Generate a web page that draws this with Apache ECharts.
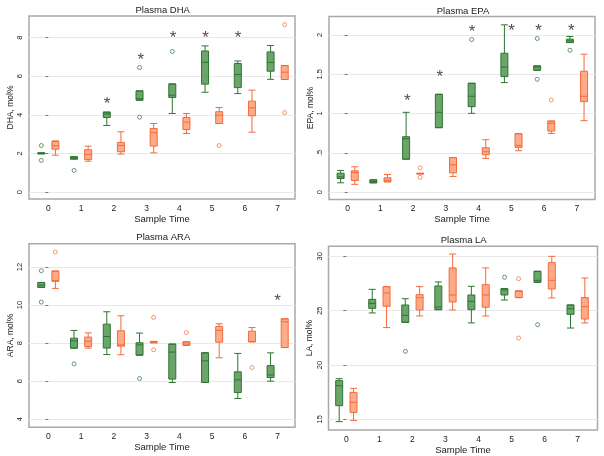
<!DOCTYPE html>
<html><head><meta charset="utf-8">
<script src="https://cdn.jsdelivr.net/npm/echarts@6/dist/echarts.min.js"></script>
<style>html,body{margin:0;padding:0;background:#fff}#c{width:604px;height:456px}</style>
</head><body><div id="c"></div>
<script>
// ---------- DATA ----------
const categories = [0, 1, 2, 3, 4, 5, 6, 7];
const panelTitles = ['Plasma DHA', 'Plasma EPA', 'Plasma ARA', 'Plasma LA'];
const yNames = ['DHA, mol%', 'EPA, mol%', 'ARA, mol%', 'LA, mol%'];
const xName = 'Sample Time';
const yTicks = [[0, 2, 4, 6, 8], [0, 0.5, 1, 1.5, 2], [4, 6, 8, 10, 12], [15, 20, 25, 30]];

// box values per category: [min, Q1, median, Q3, max]
const dhaGreen = [[1.98,1.98,2.0,2.03,2.03],[1.71,1.71,1.76,1.83,1.83],[3.45,3.86,4.05,4.14,4.14],[4.76,4.76,4.84,5.24,5.24],[4.07,4.90,5.02,5.60,5.60],[5.17,5.59,6.72,7.31,7.57],[5.10,5.41,6.09,6.66,6.79],[5.84,6.26,6.72,7.26,7.59]];
const dhaOrange = [[1.91,2.22,2.40,2.62,2.65],[1.60,1.69,1.95,2.19,2.38],[1.97,2.09,2.41,2.57,3.12],[2.03,2.38,3.07,3.29,3.55],[3.03,3.24,3.62,3.86,4.07],[3.55,3.55,3.98,4.16,4.38],[3.10,3.95,4.36,4.71,5.28],[5.83,5.83,6.21,6.55,6.55]];
const dhaGreenOut = [[0,2.41],[0,1.64],[1,1.12],[3,6.45],[3,3.88],[4,7.28]];
const dhaOrangeOut = [[5,2.41],[7,8.67],[7,4.12]];
const dhaStars = [[1.79,4.76],[2.82,7.03],[3.81,8.16],[4.80,8.16],[5.79,8.16]];

const epaGreen = [[0.119,0.174,0.195,0.242,0.276],[0.119,0.119,0.136,0.157,0.157],[0.42,0.42,0.68,0.705,1.015],[0.82,0.82,1.015,1.244,1.244],[1.002,1.087,1.219,1.384,1.384],[1.393,1.469,1.59,1.766,2.127],[1.55,1.55,1.59,1.605,1.605],[1.902,1.902,1.924,1.945,1.979]];
const epaOrange = [[0.10,0.149,0.25,0.272,0.323],[0.132,0.132,0.153,0.183,0.225],[0.232,0.232,0.235,0.24,0.24],[0.20,0.246,0.348,0.44,0.44],[0.429,0.476,0.514,0.565,0.667],[0.527,0.569,0.594,0.743,0.743],[0.747,0.777,0.875,0.904,0.904],[0.909,1.151,1.219,1.537,1.754]];
const epaGreenOut = [[4,1.94],[6,1.953],[6,1.435],[7,1.805]];
const epaOrangeOut = [[2,0.31],[2,0.19],[6,1.172]];
const epaStars = [[1.82,1.20],[2.81,1.507],[3.80,2.08],[5.0,2.093],[5.83,2.093],[6.83,2.093]];

const araGreen = [[10.93,10.93,11.05,11.19,11.19],[7.74,7.74,8.12,8.26,8.67],[7.40,7.74,8.35,9.0,9.65],[7.37,7.37,7.91,8.02,8.53],[5.93,6.11,7.53,7.95,7.95],[5.93,5.93,7.07,7.49,7.49],[5.09,5.40,6.07,6.49,7.46],[6.0,6.19,6.33,6.82,7.49]];
const araOrange = [[10.88,11.25,11.3,11.79,11.79],[7.74,7.82,8.1,8.32,8.54],[7.39,7.84,7.91,8.65,9.44],[8.02,8.02,8.05,8.09,8.09],[7.88,7.88,7.95,8.07,8.07],[7.23,8.05,8.67,8.88,9.02],[8.07,8.07,8.09,8.63,8.82],[7.77,7.77,9.12,9.28,9.28]];
const araGreenOut = [[0,11.81],[0,10.16],[1,6.91],[3,6.14]];
const araOrangeOut = [[0,12.79],[3,9.35],[3,7.65],[4,8.56],[6,6.72]];
const araStars = [[7.0,10.4]];

const laGreen = [[14.79,16.26,18.1,18.56,18.74],[24.79,25.21,25.67,26.04,26.96],[23.93,23.93,24.57,25.52,26.1],[25.09,25.09,25.34,27.27,27.64],[23.87,25.09,25.86,26.44,27.24],[25.98,26.44,26.9,27.02,27.02],[27.61,27.61,27.79,28.62,28.62],[23.4,24.66,25.18,25.52,25.52]];
const laOrange = [[14.9,15.64,16.56,17.48,17.85],[23.44,25.4,26.63,27.21,27.21],[24.51,25.06,26.2,26.47,27.21],[25.06,25.8,26.44,28.93,30.21],[24.51,25.31,26.44,27.39,28.93],[26.2,26.2,26.78,26.81,26.81],[26.17,26.99,27.79,29.42,30.0],[23.87,24.23,25.37,26.2,28.0]];
const laGreenOut = [[2,21.26],[5,28.07],[6,23.71]];
const laOrangeOut = [[5,27.94],[5,22.48]];
const laStars = [];

// ---------- LAYOUT / STYLE ----------
const FONT = 'Liberation Sans, Arial, Helvetica, sans-serif';
const grids = [
  {left: 29, top: 16, width: 266, height: 183},
  {left: 329, top: 16.5, width: 266, height: 183},
  {left: 29, top: 243.7, width: 266, height: 183.5},
  {left: 328.5, top: 246.3, width: 269, height: 183.7}
];
const xRanges = [[-0.59, 7.53], [-0.57, 7.55], [-0.59, 7.53], [-0.54, 7.6]];
const yRanges = [[-0.36, 9.12], [-0.093, 2.233], [3.58, 13.23], [14.02, 30.92]];
const yIntervals = [2, 0.5, 2, 5];
const titleX = [162.7, 463, 163.3, 463.7];
const titleY = [5.5, 6.5, 232.5, 235];
const yNameGap = [13, 10, 12, 10.5];
const xNameGap = [13, 12.5, 13, 12];

const GREEN_FILL = 'rgba(74,145,74,0.82)';
const GREEN_LINE = '#2d7530';
const ORANGE_FILL = 'rgba(252,160,120,0.88)';
const ORANGE_LINE = '#f46a3a';

const panels = [
  [dhaGreen, dhaOrange, dhaGreenOut, dhaOrangeOut, dhaStars],
  [epaGreen, epaOrange, epaGreenOut, epaOrangeOut, epaStars],
  [araGreen, araOrange, araGreenOut, araOrangeOut, araStars],
  [laGreen, laOrange, laGreenOut, laOrangeOut, laStars]
];

const fmt = v => String(v).replace(/^0\./, '.');

const option = {
  animation: false,
  backgroundColor: '#fff',
  textStyle: {fontFamily: FONT},
  title: panelTitles.map((t, i) => ({
    text: t, left: titleX[i], top: titleY[i], textAlign: 'center', padding: 0,
    textStyle: {fontSize: 9.5, fontWeight: 'normal', color: '#1a1a1a', fontFamily: FONT}
  })),
  grid: grids.map(g => Object.assign({show: true, borderColor: '#a9a9a9', borderWidth: 1.5, backgroundColor: '#fff', containLabel: false}, g)),
  xAxis: grids.map((g, i) => ({
    type: 'value', gridIndex: i, min: xRanges[i][0], max: xRanges[i][1],
    name: xName, nameLocation: 'middle', nameGap: xNameGap[i],
    nameTextStyle: {fontSize: 9.5, color: '#222', fontFamily: FONT},
    axisLine: {show: false}, splitLine: {show: false},
    axisTick: {show: false, customValues: categories},
    axisLabel: {customValues: categories, fontSize: 8.5, color: '#222', margin: 5, fontFamily: FONT}
  })),
  yAxis: grids.map((g, i) => ({
    type: 'value', gridIndex: i, min: yRanges[i][0], max: yRanges[i][1],
    minInterval: yIntervals[i], maxInterval: yIntervals[i],
    name: yNames[i], nameLocation: 'middle', nameGap: yNameGap[i], nameRotate: 90,
    nameTextStyle: {fontSize: 8.5, color: '#222', fontFamily: FONT},
    axisLine: {show: false},
    axisTick: {show: true, length: 3, customValues: yTicks[i], lineStyle: {color: '#777', width: 1}},
    axisLabel: {customValues: yTicks[i], rotate: 90, fontSize: 7.5, color: '#222', margin: 5, formatter: fmt, fontFamily: FONT},
    splitLine: {show: true, lineStyle: {color: '#e9e9e9', width: 1}}
  })),
  series: []
};

panels.forEach((p, i) => {
  const [g, o, gOut, oOut, stars] = p;
  option.series.push({
    type: 'boxplot', xAxisIndex: i, yAxisIndex: i, boxWidth: [7, 7],
    data: g.map((v, k) => [categories[k]].concat(v)),
    itemStyle: {color: GREEN_FILL, borderColor: GREEN_LINE, borderWidth: 1},
    emphasis: {disabled: true}, silent: true
  });
  option.series.push({
    type: 'boxplot', xAxisIndex: i, yAxisIndex: i, boxWidth: [7, 7],
    data: o.map((v, k) => [categories[k]].concat(v)),
    itemStyle: {color: ORANGE_FILL, borderColor: ORANGE_LINE, borderWidth: 1},
    emphasis: {disabled: true}, silent: true
  });
  option.series.push({
    type: 'scatter', xAxisIndex: i, yAxisIndex: i, symbol: 'circle', symbolSize: 4,
    symbolOffset: [-7, 0],
    data: gOut, itemStyle: {color: 'rgba(0,0,0,0)', borderColor: GREEN_LINE, borderWidth: 0.9}, silent: true
  });
  option.series.push({
    type: 'scatter', xAxisIndex: i, yAxisIndex: i, symbol: 'circle', symbolSize: 4,
    symbolOffset: [7, 0],
    data: oOut, itemStyle: {color: 'rgba(0,0,0,0)', borderColor: ORANGE_LINE, borderWidth: 0.9}, silent: true
  });
  option.series.push({
    type: 'scatter', xAxisIndex: i, yAxisIndex: i, symbolSize: 1,
    itemStyle: {color: 'rgba(0,0,0,0)'},
    data: stars, silent: true,
    label: {show: true, position: 'inside', formatter: '*', fontSize: 17, color: '#222', offset: [0, 4], fontFamily: FONT}
  });
});

const chart = echarts.init(document.getElementById('c'), null, {renderer: 'canvas'});
chart.setOption(option);
</script>
</body></html>
